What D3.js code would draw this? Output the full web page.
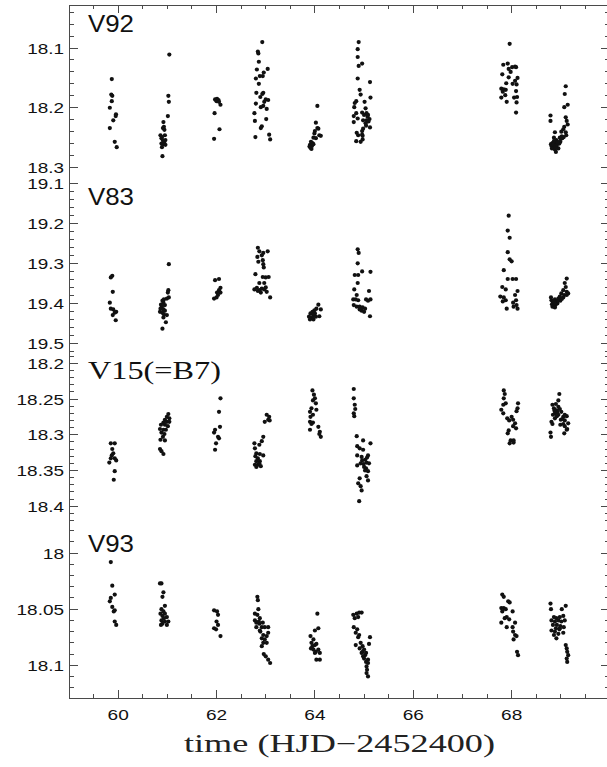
<!DOCTYPE html>
<html>
<head>
<meta charset="utf-8">
<script src="https://cdn.jsdelivr.net/npm/d3@7"></script>
<style>
  html, body { margin: 0; padding: 0; background: #fff; }
  svg { display: block; }
</style>
</head>
<body>
<svg id="chart" width="607" height="767"></svg>
<script>
// Light curves of four variables, magnitude vs. heliocentric Julian date
const xDomain = [59, 70];
const xMajorTicks = [60, 62, 64, 66, 68];
const xLabel = "time (HJD\u22122452400)";

const starNames = ["V92", "V83", "V15(=B7)", "V93"];
const magDomains = [
  [18.028, 18.318],
  [19.0875, 19.52],
  [18.1835, 18.426],
  [17.9747, 18.1292]
];
const magMajorTicks = [
  [18.1, 18.2, 18.3],
  [19.1, 19.2, 19.3, 19.4, 19.5],
  [18.2, 18.25, 18.3, 18.35, 18.4],
  [18, 18.05, 18.1]
];
const magMinorSteps = [0.02, 0.02, 0.01, 0.01];

// [day, magnitude]
const v92 = [
  [59.87,18.152],[59.88,18.180],[59.86,18.178],[59.87,18.189],[59.83,18.200],[59.955,18.211],[59.95,18.214],
  [59.90,18.221],[59.83,18.234],[59.93,18.257],[59.97,18.266],
  [61.04,18.111],[61.02,18.180],[61.03,18.190],[61.01,18.214],[60.92,18.224],[60.93,18.232],[60.91,18.234],
  [60.94,18.237],[60.86,18.246],[60.95,18.246],[60.88,18.251],[60.96,18.254],[60.91,18.255],[60.88,18.260],
  [60.92,18.261],[60.96,18.262],[60.89,18.266],[60.90,18.281],[60.94,18.257],[60.89,18.249],
  [61.97,18.186],[62.01,18.185],[62.04,18.187],[62.00,18.189],[62.05,18.190],[62.08,18.195],[61.96,18.209],
  [62.06,18.236],[61.95,18.252],
  [62.93,18.090],[62.84,18.106],[62.85,18.109],[62.86,18.123],[63.04,18.135],[62.82,18.136],[62.96,18.141],
  [62.80,18.151],[62.88,18.147],[62.94,18.147],[62.86,18.160],[62.81,18.175],[62.95,18.175],[62.93,18.177],
  [62.89,18.182],[63.00,18.186],[63.05,18.187],[62.97,18.190],[62.80,18.193],[62.95,18.197],[62.90,18.199],
  [63.02,18.202],[62.77,18.209],[62.78,18.222],[63.01,18.219],[62.92,18.231],[62.90,18.234],[62.79,18.249],
  [63.07,18.245],[63.09,18.253],
  [64.05,18.197],[64.02,18.225],[64.05,18.234],[64.07,18.235],[64.00,18.239],[63.99,18.243],[64.09,18.246],
  [64.12,18.247],[63.97,18.250],[64.02,18.251],[63.92,18.257],[63.95,18.259],[63.90,18.262],[63.94,18.264],
  [63.91,18.267],[63.93,18.269],[63.97,18.261],[63.89,18.265],
  [64.89,18.090],[64.87,18.102],[64.87,18.115],[64.89,18.130],[64.96,18.126],[64.87,18.151],[65.12,18.157],
  [64.91,18.170],[64.93,18.178],[65.13,18.183],[64.84,18.189],[64.81,18.192],[65.01,18.190],[64.80,18.199],
  [65.03,18.201],[64.84,18.209],[64.96,18.208],[65.05,18.209],[65.00,18.212],[65.08,18.212],[64.79,18.214],
  [64.87,18.218],[64.98,18.221],[65.05,18.221],[65.11,18.219],[64.79,18.224],[65.03,18.226],[64.98,18.235],
  [65.12,18.233],[64.96,18.239],[64.85,18.242],[64.88,18.246],[64.96,18.245],[64.97,18.247],[64.84,18.256],
  [64.93,18.257],[64.97,18.253],[65.07,18.215],[65.09,18.223],[65.04,18.230],
  [67.96,18.093],[67.83,18.128],[67.92,18.126],[67.94,18.135],[68.01,18.132],[68.07,18.131],[68.09,18.132],
  [67.98,18.140],[67.81,18.144],[67.94,18.149],[68.12,18.150],[68.07,18.155],[67.89,18.159],[68.02,18.160],
  [68.10,18.161],[67.79,18.168],[67.84,18.169],[67.88,18.170],[67.82,18.173],[68.09,18.172],[67.87,18.179],
  [67.79,18.183],[68.05,18.183],[68.11,18.182],[67.90,18.190],[68.10,18.191],[68.09,18.208],
  [69.10,18.164],[69.08,18.177],[69.14,18.195],[69.07,18.199],[68.79,18.213],[68.79,18.222],[69.10,18.216],
  [69.07,18.232],[69.14,18.228],[68.88,18.241],[69.10,18.241],[69.01,18.240],[69.11,18.246],[69.06,18.249],
  [68.98,18.250],[69.03,18.251],[68.86,18.250],[68.91,18.254],[68.83,18.259],[68.80,18.261],[68.87,18.260],
  [68.93,18.257],[68.99,18.257],[68.84,18.265],[68.91,18.264],[68.88,18.270],[68.90,18.274],[68.95,18.268],
  [68.81,18.264],[68.97,18.260],[68.85,18.262],[68.89,18.266],[68.92,18.262],[69.02,18.248],[69.05,18.236],
  [69.12,18.222],[69.00,18.252],[68.86,18.256],[68.94,18.258],[68.82,18.268]
];

const v83 = [
  [59.88,19.331],[59.85,19.335],[59.89,19.371],[59.83,19.398],[59.85,19.413],[59.90,19.415],[59.96,19.421],
  [59.89,19.429],[59.95,19.442],[59.93,19.423],
  [61.03,19.302],[61.02,19.367],[61.01,19.373],[61.03,19.385],[60.99,19.388],[60.93,19.390],[60.90,19.393],
  [60.92,19.398],[60.87,19.403],[60.95,19.404],[60.89,19.408],[60.86,19.413],[60.92,19.415],[60.95,19.418],
  [60.85,19.421],[60.90,19.423],[60.93,19.427],[60.99,19.429],[60.92,19.435],[60.97,19.447],[60.90,19.463],
  [61.97,19.342],[62.05,19.339],[62.08,19.361],[62.05,19.367],[62.01,19.373],[62.08,19.373],[62.03,19.379],
  [61.95,19.388],[62.00,19.385],
  [62.84,19.261],[62.87,19.270],[62.95,19.274],[63.04,19.270],[62.92,19.280],[62.83,19.284],[62.85,19.296],
  [62.94,19.292],[62.95,19.302],[62.96,19.310],[62.79,19.327],[62.94,19.334],[63.00,19.335],[63.06,19.334],
  [62.87,19.349],[62.97,19.349],[62.82,19.361],[62.77,19.365],[62.87,19.367],[62.92,19.363],[62.97,19.365],
  [63.00,19.360],[63.02,19.371],[62.90,19.373],[62.84,19.369],[63.09,19.385],
  [64.07,19.403],[64.12,19.415],[64.03,19.413],[63.99,19.417],[63.95,19.421],[63.91,19.425],[64.00,19.425],
  [63.97,19.429],[63.88,19.433],[63.94,19.435],[64.02,19.433],[64.09,19.432],[63.90,19.440],[63.97,19.440],
  [64.87,19.265],[64.89,19.274],[64.87,19.300],[64.96,19.320],[65.13,19.321],[64.81,19.329],[64.88,19.329],
  [64.87,19.349],[64.80,19.365],[65.10,19.369],[64.85,19.379],[64.78,19.390],[64.83,19.390],[65.04,19.390],
  [65.08,19.393],[65.13,19.390],[64.88,19.392],[64.79,19.404],[64.85,19.408],[64.91,19.408],[64.97,19.410],
  [65.02,19.413],[64.95,19.418],[65.00,19.421],[64.91,19.415],[65.12,19.432],
  [67.94,19.181],[67.92,19.218],[67.96,19.236],[67.92,19.272],[67.96,19.290],[68.00,19.295],[67.84,19.317],
  [67.92,19.339],[68.02,19.339],[68.09,19.339],[67.81,19.359],[67.88,19.365],[68.12,19.369],[68.07,19.379],
  [67.77,19.383],[67.84,19.385],[68.09,19.392],[67.82,19.395],[67.88,19.392],[68.03,19.398],[68.10,19.404],
  [67.90,19.413],[68.04,19.408],[68.12,19.413],
  [69.12,19.338],[69.08,19.349],[69.10,19.359],[69.05,19.367],[69.12,19.371],[69.01,19.375],[69.07,19.379],
  [68.98,19.383],[68.80,19.385],[69.05,19.385],[68.95,19.388],[68.88,19.390],[68.81,19.392],[68.99,19.393],
  [68.91,19.396],[68.84,19.398],[68.89,19.404],[68.86,19.407],[68.83,19.408],[68.88,19.410],[68.93,19.400],
  [69.12,19.379],[69.15,19.375],[68.97,19.390],[68.82,19.402],[68.85,19.395],[68.90,19.401],[68.94,19.394],
  [69.02,19.389],[68.87,19.399]
];

const v15 = [
  [59.85,18.312],[59.93,18.312],[59.88,18.320],[59.90,18.326],[59.87,18.329],[59.85,18.333],[59.93,18.333],
  [59.96,18.336],[59.82,18.339],[59.93,18.351],[59.91,18.363],
  [61.02,18.271],[60.99,18.275],[61.04,18.277],[60.95,18.279],[60.99,18.282],[60.92,18.283],[61.04,18.282],
  [60.87,18.286],[60.95,18.286],[61.01,18.288],[60.85,18.292],[60.92,18.293],[60.97,18.293],[60.88,18.297],
  [60.94,18.299],[60.91,18.303],[60.95,18.308],[60.86,18.307],[60.85,18.320],[60.92,18.327],[60.88,18.323],
  [62.08,18.249],[62.05,18.268],[62.07,18.289],[61.97,18.293],[61.95,18.297],[62.03,18.303],[62.05,18.305],
  [61.99,18.312],[61.97,18.321],
  [63.02,18.272],[63.07,18.275],[63.05,18.279],[62.98,18.282],[63.08,18.280],[62.95,18.303],[62.92,18.309],
  [62.77,18.312],[62.87,18.314],[62.78,18.319],[62.81,18.326],[62.88,18.327],[62.95,18.329],[62.79,18.330],
  [62.84,18.333],[62.81,18.337],[62.88,18.337],[62.78,18.342],[62.84,18.342],[62.81,18.345],[62.90,18.344],
  [62.87,18.340],
  [63.95,18.238],[63.98,18.244],[64.00,18.249],[63.96,18.252],[64.02,18.256],[63.93,18.263],[64.03,18.265],
  [63.90,18.268],[63.96,18.272],[63.91,18.275],[63.90,18.282],[63.96,18.283],[63.93,18.285],[63.90,18.293],
  [64.07,18.289],[64.10,18.296],[64.09,18.299],[64.12,18.303],
  [64.79,18.236],[64.79,18.249],[64.81,18.258],[64.82,18.264],[64.79,18.270],[64.80,18.274],[64.85,18.302],
  [64.86,18.316],[64.98,18.308],[65.13,18.312],[64.91,18.319],[64.98,18.321],[64.86,18.329],[64.95,18.331],
  [65.08,18.329],[65.02,18.335],[65.05,18.339],[65.10,18.340],[64.99,18.341],[64.86,18.343],[65.04,18.347],
  [65.08,18.351],[65.02,18.350],[65.05,18.358],[64.91,18.361],[64.88,18.368],[65.08,18.364],[64.93,18.372],
  [64.95,18.378],[64.90,18.393],[64.96,18.336],[65.00,18.345],[64.93,18.340],[65.06,18.332],
  [67.84,18.238],[67.86,18.243],[67.84,18.249],[67.88,18.256],[67.83,18.258],[68.13,18.256],[68.12,18.263],
  [67.79,18.265],[67.83,18.270],[68.10,18.267],[67.91,18.277],[68.00,18.275],[68.03,18.279],[67.95,18.280],
  [68.07,18.284],[68.09,18.291],[68.03,18.288],[67.94,18.294],[67.92,18.298],[67.98,18.308],[68.04,18.308],
  [67.96,18.312],[68.04,18.311],
  [68.97,18.243],[68.95,18.252],[68.83,18.258],[68.90,18.257],[68.95,18.261],[68.86,18.263],[68.98,18.264],
  [68.91,18.266],[68.88,18.270],[69.01,18.268],[68.84,18.272],[68.95,18.272],[69.05,18.275],[69.08,18.272],
  [69.12,18.274],[68.81,18.282],[69.00,18.279],[69.08,18.280],[69.05,18.285],[69.15,18.284],[68.99,18.286],
  [69.08,18.288],[69.12,18.293],[68.79,18.297],[68.80,18.303],[69.07,18.298],[69.13,18.292],[68.88,18.277],
  [68.83,18.285],[68.93,18.268],[68.87,18.266],[69.03,18.278],[68.92,18.274]
];

const v93 = [
  [59.85,18.008],[59.88,18.029],[59.85,18.040],[59.93,18.037],[59.83,18.043],[59.88,18.048],[59.93,18.051],
  [59.91,18.052],[59.93,18.061],[59.96,18.064],
  [60.85,18.027],[60.88,18.027],[60.92,18.035],[60.90,18.039],[60.95,18.047],[60.88,18.050],[60.92,18.052],
  [60.86,18.054],[60.95,18.054],[60.90,18.056],[60.99,18.057],[60.93,18.058],[60.88,18.060],[60.95,18.061],
  [61.02,18.061],[60.90,18.063],[60.99,18.064],[60.87,18.064],
  [61.95,18.051],[62.01,18.052],[62.03,18.055],[62.00,18.061],[62.03,18.064],[61.95,18.067],[61.99,18.068],
  [62.08,18.074],
  [62.83,18.039],[62.84,18.042],[62.85,18.050],[62.78,18.054],[62.83,18.055],[62.88,18.058],[62.78,18.060],
  [62.81,18.062],[62.87,18.063],[62.94,18.062],[62.81,18.066],[62.92,18.066],[62.98,18.066],[63.05,18.066],
  [62.88,18.069],[63.05,18.071],[62.95,18.073],[63.02,18.074],[62.92,18.076],[62.98,18.077],[62.95,18.080],
  [63.02,18.080],[62.92,18.083],[62.96,18.090],[63.00,18.092],[63.05,18.095],[63.09,18.098],[62.89,18.070],
  [62.86,18.061],
  [64.05,18.054],[64.07,18.067],[64.00,18.069],[63.91,18.074],[63.97,18.077],[63.93,18.080],[64.00,18.082],
  [63.95,18.083],[64.03,18.081],[63.92,18.085],[63.97,18.086],[64.02,18.088],[64.07,18.086],[64.10,18.089],
  [64.00,18.089],[64.03,18.095],[64.10,18.095],
  [64.78,18.055],[64.85,18.054],[64.90,18.053],[64.95,18.053],[64.81,18.058],[64.88,18.057],[64.79,18.066],
  [64.86,18.068],[64.83,18.071],[64.90,18.073],[64.88,18.075],[64.83,18.082],[64.93,18.080],[65.12,18.075],
  [65.10,18.081],[64.97,18.083],[64.91,18.085],[65.00,18.086],[64.95,18.089],[65.02,18.091],[64.98,18.092],
  [65.08,18.095],[65.04,18.097],[65.08,18.098],[65.05,18.101],[65.06,18.104],[65.05,18.107],[65.08,18.110],
  [64.97,18.088],[65.00,18.094],[65.04,18.089],
  [67.81,18.037],[67.84,18.039],[67.93,18.043],[67.96,18.044],[67.79,18.049],[67.84,18.049],[67.88,18.050],
  [67.81,18.052],[68.02,18.052],[67.90,18.057],[67.86,18.058],[67.95,18.059],[67.79,18.062],[68.07,18.062],
  [67.90,18.066],[68.02,18.066],[68.03,18.070],[68.07,18.073],[68.10,18.074],[68.04,18.077],[68.11,18.088],
  [68.13,18.091],
  [68.79,18.045],[68.80,18.050],[69.10,18.047],[69.02,18.050],[68.86,18.057],[68.91,18.058],[68.98,18.057],
  [69.05,18.056],[68.81,18.060],[68.88,18.061],[68.95,18.060],[69.01,18.061],[69.08,18.060],[68.84,18.064],
  [68.92,18.064],[68.99,18.065],[69.06,18.066],[68.81,18.069],[68.88,18.070],[68.97,18.068],[69.05,18.071],
  [68.86,18.073],[68.95,18.072],[68.91,18.076],[69.10,18.082],[69.12,18.085],[69.13,18.088],[69.15,18.091],
  [69.12,18.094],[69.13,18.097],[68.90,18.067],[68.98,18.067]
];

const starData = [v92, v83, v15, v93];

// ---- layout ----
const svg = d3.select("#chart");
const plotLeft = 69, plotRight = 610, plotTop = 5, plotBottom = 698;
const panelH = (plotBottom - plotTop) / starNames.length;

const x = d3.scaleLinear().domain(xDomain).range([plotLeft, plotRight]);

const axisColor = "#4a4a4a";
const tickFont = "'Liberation Sans', Arial, sans-serif";
const serifFont = "'Liberation Serif', 'DejaVu Serif', serif";
const labelWidth = s => Array.from(s).reduce((w, c) => w + (c === "." ? 5 : 10.6), 0);

const frame = svg.append("g").attr("stroke", axisColor).attr("stroke-width", 1).attr("fill", "none");
frame.append("rect")
  .attr("x", plotLeft).attr("y", plotTop)
  .attr("width", plotRight - plotLeft).attr("height", plotBottom - plotTop)
  .attr("shape-rendering", "crispEdges");

// x ticks, bottom and top, pointing inward
const xMinor = d3.range(xDomain[0] + 0.5, xDomain[1], 0.5).filter(v => !xMajorTicks.includes(v));
const xt = svg.append("g").attr("stroke", axisColor).attr("stroke-width", 1).attr("shape-rendering", "crispEdges");
xMajorTicks.forEach(v => {
  xt.append("line").attr("x1", x(v)).attr("x2", x(v)).attr("y1", plotBottom).attr("y2", plotBottom - 8);
  xt.append("line").attr("x1", x(v)).attr("x2", x(v)).attr("y1", plotTop).attr("y2", plotTop + 8);
});
xMinor.forEach(v => {
  xt.append("line").attr("x1", x(v)).attr("x2", x(v)).attr("y1", plotBottom).attr("y2", plotBottom - 4);
  xt.append("line").attr("x1", x(v)).attr("x2", x(v)).attr("y1", plotTop).attr("y2", plotTop + 4);
});
svg.append("g").selectAll("text").data(xMajorTicks).join("text")
  .attr("x", d => x(d)).attr("y", 720)
  .attr("text-anchor", "middle")
  .attr("font-family", tickFont).attr("font-size", 15)
  .attr("textLength", d => labelWidth(String(d))).attr("lengthAdjust", "spacingAndGlyphs")
  .attr("fill", "#111")
  .text(d => d);

svg.append("text")
  .attr("x", (plotLeft + plotRight) / 2).attr("y", 752)
  .attr("text-anchor", "middle")
  .attr("font-family", serifFont)
  .attr("font-size", 25)
  .attr("textLength", 311).attr("lengthAdjust", "spacingAndGlyphs")
  .attr("fill", "#222")
  .text(xLabel);

// ---- panels ----
starNames.forEach((name, i) => {
  const y0 = plotTop + i * panelH, y1 = y0 + panelH;
  const y = d3.scaleLinear().domain(magDomains[i]).range([y0, y1]);
  const g = svg.append("g");

  const step = magMinorSteps[i];
  const [lo, hi] = magDomains[i];
  const minor = d3.range(Math.ceil(lo / step - 1e-6), Math.floor(hi / step + 1e-6) + 1)
    .map(k => +(k * step).toFixed(4));

  const tk = g.append("g").attr("stroke", axisColor).attr("stroke-width", 1).attr("shape-rendering", "crispEdges");
  minor.forEach(v => {
    const major = magMajorTicks[i].some(m => Math.abs(m - v) < 1e-6);
    const len = major ? 9 : 5;
    tk.append("line").attr("x1", plotLeft).attr("x2", plotLeft + len).attr("y1", y(v)).attr("y2", y(v));
    tk.append("line").attr("x1", plotRight).attr("x2", plotRight - len).attr("y1", y(v)).attr("y2", y(v));
  });

  g.append("g").selectAll("text").data(magMajorTicks[i]).join("text")
    .attr("x", 64).attr("y", d => y(d) + 5.5)
    .attr("text-anchor", "end")
    .attr("font-family", tickFont).attr("font-size", 15)
    .attr("textLength", d => labelWidth(String(d))).attr("lengthAdjust", "spacingAndGlyphs")
    .attr("fill", "#111")
    .text(d => d);

  const serifName = name.includes("(");
  g.append("text")
    .attr("x", 88).attr("y", y0 + 27)
    .attr("font-family", serifName ? serifFont : tickFont)
    .attr("font-size", serifName ? 25 : 23)
    .attr("textLength", serifName ? 133 : 46).attr("lengthAdjust", "spacingAndGlyphs")
    .attr("fill", "#111")
    .text(name);

  g.append("g").selectAll("circle").data(starData[i]).join("circle")
    .attr("cx", d => x(d[0])).attr("cy", d => y(d[1]))
    .attr("r", 2.1)
    .attr("fill", "#111");
});
</script>
</body>
</html>
